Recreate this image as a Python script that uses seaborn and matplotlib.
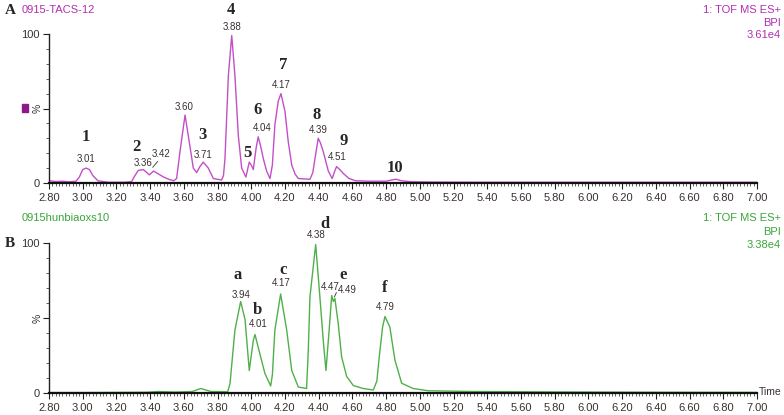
import matplotlib
matplotlib.use("Agg")
import matplotlib.pyplot as plt
import numpy as np
import pandas as pd
import seaborn as sns

sns.set_style("white")
plt.rcParams['font.family'] = ['Liberation Sans', 'DejaVu Sans']

# Trace A (0915-TACS-12), retention time in min, intensity in %
time_a = [2.80, 2.84, 2.88, 2.92, 2.96, 2.98, 3.00, 3.02, 3.04, 3.06, 3.09, 3.15,
          3.20, 3.25, 3.29, 3.31, 3.33, 3.36, 3.38, 3.395, 3.42, 3.45, 3.48, 3.51,
          3.54, 3.557, 3.577, 3.607, 3.626, 3.656, 3.676, 3.695, 3.715, 3.745, 3.775, 3.824,
          3.835, 3.844, 3.864, 3.884, 3.903, 3.923, 3.943, 3.968, 3.988, 4.00, 4.012, 4.028,
          4.041, 4.055, 4.071, 4.091, 4.111, 4.125, 4.14, 4.16, 4.176, 4.20, 4.219, 4.24,
          4.26, 4.279, 4.348, 4.365, 4.378, 4.397, 4.41, 4.427, 4.457, 4.48, 4.495, 4.506,
          4.525, 4.545, 4.58, 4.62, 4.70, 4.80, 4.84, 4.86, 4.89, 4.95, 5.10, 5.40,
          5.80, 6.20, 6.60, 7.00]
int_a = [1.5, 1.0, 1.2, 0.8, 1.2, 4.0, 9.0, 10.0, 9.0, 5.0, 1.5, 0.5,
         0.5, 0.5, 1.0, 5.0, 8.5, 9.0, 7.0, 5.5, 8.0, 6.0, 4.0, 2.5,
         1.5, 3.0, 21.0, 45.6, 32.0, 10.0, 7.0, 11.0, 14.0, 10.0, 3.0, 2.0,
         5.0, 16.5, 72.0, 99.0, 72.0, 32.0, 10.0, 4.0, 14.0, 12.0, 9.0, 23.0,
         31.0, 25.0, 16.5, 8.0, 3.0, 12.0, 39.0, 55.0, 60.0, 48.0, 28.0, 12.0,
         6.0, 3.0, 2.5, 7.0, 16.5, 30.0, 27.0, 21.0, 8.0, 3.0, 8.0, 11.0,
         9.0, 6.5, 3.0, 1.5, 1.2, 1.2, 2.2, 2.5, 1.5, 0.8, 0.6, 0.5,
         0.5, 0.5, 0.5, 0.5]

# Trace B (0915hunbiaoxs10)
time_b = [2.80, 3.00, 3.20, 3.38, 3.45, 3.55, 3.65, 3.70, 3.76, 3.86, 3.874, 3.903,
          3.937, 3.963, 3.988, 4.012, 4.022, 4.051, 4.081, 4.115, 4.125, 4.14, 4.174, 4.21,
          4.24, 4.279, 4.328, 4.338, 4.348, 4.382, 4.407, 4.427, 4.443, 4.462, 4.477, 4.487,
          4.496, 4.516, 4.536, 4.566, 4.605, 4.664, 4.724, 4.745, 4.759, 4.779, 4.793, 4.822,
          4.852, 4.892, 4.96, 5.05, 5.30, 5.80, 6.40, 7.00]
int_b = [0.3, 0.3, 0.4, 0.5, 1.0, 0.6, 1.0, 3.0, 1.0, 0.8, 6.5, 42.0,
         61.0, 49.0, 15.0, 35.0, 39.0, 26.0, 13.0, 4.7, 12.0, 42.0, 66.0, 42.0,
         15.0, 4.0, 3.0, 28.0, 64.0, 99.0, 64.0, 35.0, 15.0, 42.0, 65.0, 61.0,
         63.0, 46.0, 24.0, 11.0, 5.0, 3.0, 2.0, 8.0, 24.0, 44.0, 51.0, 44.0,
         22.0, 6.5, 3.0, 1.5, 1.0, 0.7, 0.5, 0.4]

# peak labels: (text, x, y) in data units
nums_a = [("1", 3.02, 30.9), ("2", 3.32, 24.2), ("3", 3.713, 32.2), ("4", 3.88, 116.0),
          ("5", 3.98, 20.1), ("6", 4.04, 49.0), ("7", 4.188, 79.2), ("8", 4.39, 45.6),
          ("9", 4.55, 28.2), ("10", 4.852, 10.1)]
rts_a = [("3.01", 3.02, 16.1), ("3.36", 3.36, 13.4), ("3.42", 3.465, 19.5),
         ("3.60", 3.60, 51.0), ("3.71", 3.713, 18.8), ("3.88", 3.885, 104.7),
         ("4.04", 4.063, 36.9), ("4.17", 4.18, 65.8), ("4.39", 4.395, 35.6),
         ("4.51", 4.508, 17.4)]
nums_b = [("a", 3.921, 78.7), ("b", 4.034, 55.3), ("c", 4.188, 82.0),
          ("d", 4.437, 112.7), ("e", 4.544, 78.7), ("f", 4.793, 70.0)]
rts_b = [("3.94", 3.939, 65.3), ("4.01", 4.04, 46.0), ("4.17", 4.176, 73.3),
         ("4.38", 4.384, 105.3), ("4.47", 4.468, 70.7), ("4.49", 4.572, 68.7),
         ("4.79", 4.793, 57.3)]

color_a = "#c24fc8"
color_b = "#4fb04a"
text_a = "#b02fb0"
text_b = "#3aa53a"
tick_col = "#3a3030"

W, H = 784, 415
fig = plt.figure(figsize=(W / 100, H / 100), dpi=100)

def px_ax(l, t, r, b):
    return fig.add_axes([l / W, 1 - b / H, (r - l) / W, (b - t) / H])

ax_a = px_ax(49, 34, 757, 183)
ax_b = px_ax(49, 243, 757, 393)

df_a = pd.DataFrame({"time": time_a, "intensity": int_a})
df_b = pd.DataFrame({"time": time_b, "intensity": int_b})
sns.lineplot(data=df_a, x="time", y="intensity", ax=ax_a, color=color_a,
             lw=1.0, sort=False, estimator=None)
sns.lineplot(data=df_b, x="time", y="intensity", ax=ax_b, color=color_b,
             lw=1.0, sort=False, estimator=None)

xt = np.arange(2.8, 7.01, 0.2)
for ax in (ax_a, ax_b):
    ax.set_xlim(2.8, 7.0)
    ax.set_ylim(0, 100)
    ax.set_xlabel("")
    ax.set_ylabel("")
    ax.patch.set_alpha(0)
    for s in ("top", "right"):
        ax.spines[s].set_visible(False)
    ax.spines["left"].set_color("#222222")
    ax.spines["left"].set_linewidth(1.0)
    ax.spines["bottom"].set_color("#111111")
    ax.spines["bottom"].set_linewidth(1.6)
    ax.set_xticks(xt)
    ax.set_xticklabels([f"{v:.2f}" for v in xt])
    ax.set_xticks(np.arange(2.8, 7.001, 0.02), minor=True)
    ax.set_yticks([0, 50, 100])
    ax.set_yticklabels(["0", "", "100"])
    ax.set_yticks(np.arange(0, 101, 10), minor=True)
    ax.tick_params(axis="both", which="major", direction="out", length=4,
                   width=0.8, color="#222222", labelsize=8, labelcolor=tick_col,
                   pad=3)
    ax.tick_params(axis="both", which="minor", direction="out", length=2,
                   width=0.5, color="#222222")
    ax.tick_params(axis="x", which="both", bottom=True)
    ax.tick_params(axis="y", which="both", left=True)
    ax.text(-6 / 708, 0.5, "%", rotation=90, transform=ax.transAxes, ha="right",
            va="center", fontsize=7.5, color=tick_col)

def label_peaks(ax, nums, rts):
    for t, x, y in nums:
        ax.text(x, y, t, ha="center", va="center", fontsize=12, fontweight="bold",
                family=["Liberation Serif", "DejaVu Serif"], clip_on=False)
    for t, x, y in rts:
        ax.text(x, y, t, ha="center", va="center", fontsize=7, color="#3a3030",
                clip_on=False)

label_peaks(ax_a, nums_a, rts_a)
label_peaks(ax_b, nums_b, rts_b)
ax_a.plot([3.445, 3.415], [14.5, 10.5], color="#333333", lw=0.6)
ax_b.plot([4.505, 4.493], [67.0, 64.0], color="#333333", lw=0.6)

def ftext(x, y, s, **kw):
    fig.text(x / W, 1 - y / H, s, **kw)

serif = ["Liberation Serif", "DejaVu Serif"]
ftext(5, 10, "A", fontsize=11, fontweight="bold", family=serif, va="center")
ftext(5, 243, "B", fontsize=11, fontweight="bold", family=serif, va="center")
ftext(22, 10, "0915-TACS-12", fontsize=8, color=text_a, va="center")
ftext(22, 218, "0915hunbiaoxs10", fontsize=8, color=text_b, va="center")
for y, s in [(10, "1: TOF MS ES+"), (23, "BPI"), (35, "3.61e4")]:
    ftext(781, y, s, fontsize=8, color=text_a, ha="right", va="center")
for y, s in [(218, "1: TOF MS ES+"), (232, "BPI"), (245, "3.38e4")]:
    ftext(781, y, s, fontsize=8, color=text_b, ha="right", va="center")
ftext(759, 392, "Time", fontsize=7.5, color=tick_col, va="center")

# small colour marker left of panel A
fig.patches.append(plt.Rectangle((22 / W, 1 - 112 / H), 6 / W, 8 / H,
                                 transform=fig.transFigure, color="#8a1a8a"))

fig.savefig("out.png", dpi=100)
